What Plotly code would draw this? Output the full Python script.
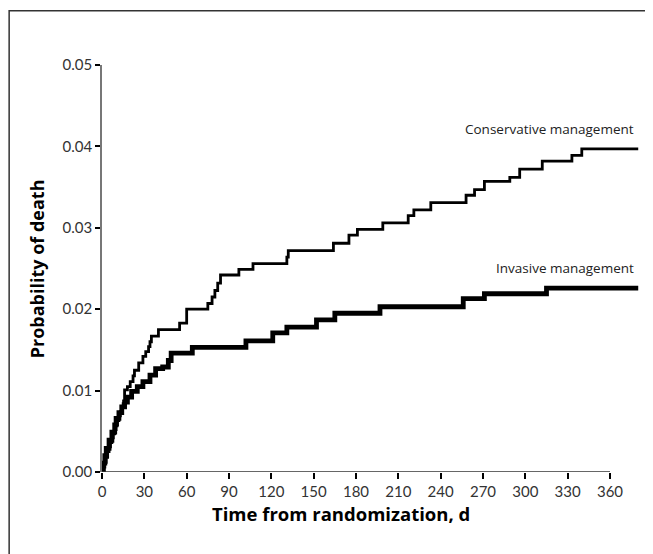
import plotly.graph_objects as go

# Conservative management: step times (days) and cumulative probability of death
cons_days = [0, 1, 2, 3, 4, 5, 6, 7, 8, 9, 10, 11, 12, 13, 14, 15, 16, 18, 20, 22, 23,
             26, 29, 31, 33, 34, 35, 40, 55, 60, 75, 78, 80, 82, 84, 97, 107, 131, 132,
             164, 175, 181, 199, 217, 221, 233, 258, 264, 271, 289, 296, 312, 333, 340, 380]
cons_prob = [0.0, 0.0006, 0.0012, 0.0018, 0.0025, 0.0031, 0.0036, 0.0042, 0.0047, 0.0052,
             0.0058, 0.0063, 0.0069, 0.0074, 0.0079, 0.0084, 0.0101, 0.0105, 0.0111, 0.0118,
             0.0125, 0.0134, 0.0142, 0.0148, 0.0154, 0.0160, 0.0167, 0.0175, 0.0183, 0.0200,
             0.0207, 0.0215, 0.0223, 0.0232, 0.0242, 0.0249, 0.0256, 0.0264, 0.0272, 0.0281,
             0.0291, 0.0298, 0.0306, 0.0315, 0.0322, 0.0331, 0.0340, 0.0347, 0.0357, 0.0362,
             0.0372, 0.0382, 0.0389, 0.0397, 0.0397]

# Invasive management
inv_days = [0, 1, 2, 3, 5, 7, 9, 10, 12, 14, 16, 18, 21, 25, 29, 34, 38, 43, 47, 49,
            64, 102, 121, 131, 152, 165, 197, 256, 271, 315, 380]
inv_prob = [0.0, 0.0011, 0.0020, 0.0029, 0.0039, 0.0049, 0.0058, 0.0066, 0.0073, 0.0080,
            0.0086, 0.0092, 0.0099, 0.0105, 0.0111, 0.0119, 0.0127, 0.0129, 0.0137, 0.0146,
            0.0153, 0.0161, 0.0171, 0.0178, 0.0187, 0.0195, 0.0203, 0.0213, 0.0219, 0.0226,
            0.0226]

x_ticks = list(range(0, 361, 30))
y_ticks = [0.0, 0.01, 0.02, 0.03, 0.04, 0.05]
y_tick_text = ["0.00", "0.01", "0.02", "0.03", "0.04", "0.05"]

FONT = "Open Sans"
TICK_FONT = "Lato"

fig = go.Figure()
fig.add_trace(go.Scatter(x=inv_days, y=inv_prob, mode="lines", line_shape="hv",
                         line=dict(color="black", width=4.8), cliponaxis=False,
                         name="Invasive management", showlegend=False))
fig.add_trace(go.Scatter(x=cons_days, y=cons_prob, mode="lines", line_shape="hv",
                         line=dict(color="black", width=2.8), cliponaxis=False,
                         name="Conservative management", showlegend=False))

fig.update_layout(
    width=645, height=546, autosize=False,
    margin=dict(l=94, r=8, t=57, b=82, pad=0),
    paper_bgcolor="white", plot_bgcolor="white",
    font=dict(family=FONT, color="#333", size=13),
    xaxis=dict(range=[0, 384.8], showgrid=False, zeroline=False, showline=False,
               ticks="outside", ticklen=6, tickwidth=1.5, tickcolor="black",
               tickvals=x_ticks, ticktext=[str(v) for v in x_ticks],
               tickfont=dict(size=15, color="#333", family=TICK_FONT)),
    yaxis=dict(range=[0, 0.05], showgrid=False, zeroline=False, showline=True,
               linecolor="#777", linewidth=1.5,
               ticks="outside", ticklen=5, tickwidth=1.5, tickcolor="black",
               tickvals=y_ticks, ticktext=y_tick_text,
               tickfont=dict(size=15, color="#333", family=TICK_FONT)),
    shapes=[
        dict(type="line", xref="x", yref="y", x0=0, x1=360, y0=0, y1=0,
             line=dict(color="#333", width=1.5)),
        dict(type="rect", xref="paper", yref="paper", x0=-0.171, x1=1.2,
             y0=-0.4, y1=1.133, line=dict(color="#333", width=1.5), layer="below"),
    ],
    annotations=[
        dict(text="<b>Time from randomization, d</b>", xref="paper", yref="paper",
             x=0.44, y=-0.103, xanchor="center", yanchor="middle", showarrow=False,
             font=dict(size=18.5, color="black", family=FONT)),
        dict(text="<b>Probability of death</b>", xref="paper", yref="paper",
             x=-0.12, y=0.50, xanchor="center", yanchor="middle", showarrow=False,
             textangle=-90, font=dict(size=18, color="black", family=FONT)),
        dict(text="Conservative management", xref="x", yref="y", x=378.4, y=0.0421,
             xanchor="right", yanchor="middle", showarrow=False,
             font=dict(size=13.5, color="#222", family=FONT)),
        dict(text="Invasive management", xref="x", yref="y", x=378.4, y=0.0251,
             xanchor="right", yanchor="middle", showarrow=False,
             font=dict(size=13.5, color="#222", family=FONT)),
    ],
)

fig.write_html("out.html")
